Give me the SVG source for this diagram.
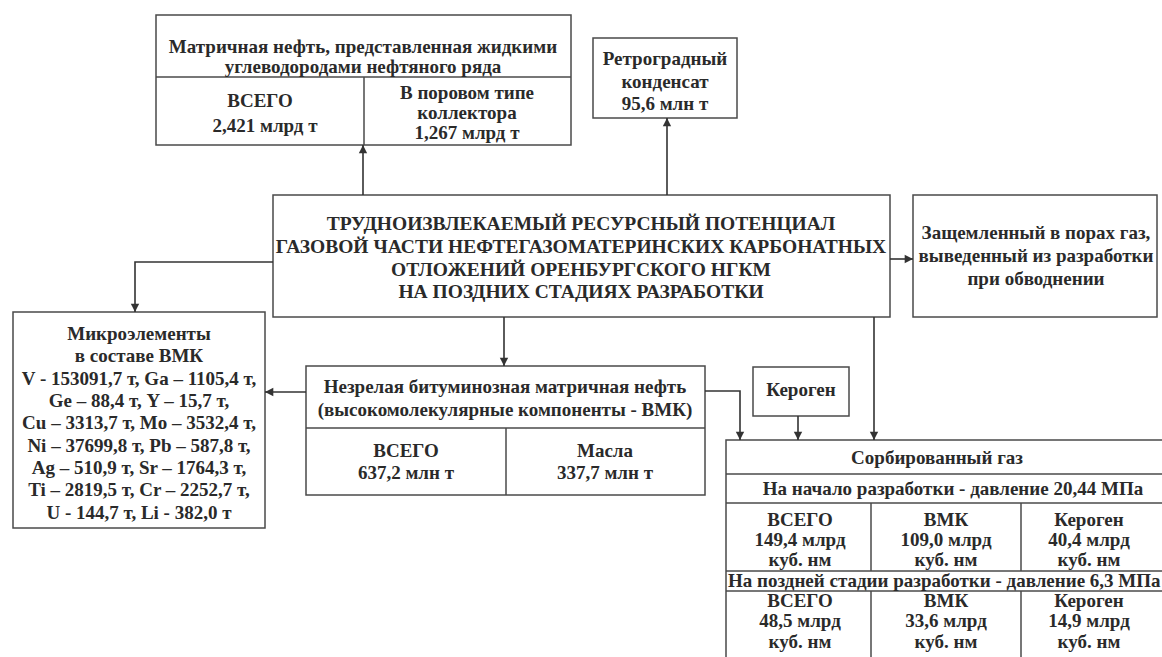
<svg xmlns="http://www.w3.org/2000/svg" width="1162" height="657" viewBox="0 0 1162 657" font-family="'Liberation Serif', 'Times New Roman', 'DejaVu Serif', serif">
<defs>
<marker id="ah" viewBox="0 0 10 12" refX="10" refY="6" markerWidth="11" markerHeight="10" markerUnits="userSpaceOnUse" orient="auto">
<path d="M0,1 L10,6 L0,11 z" fill="#333"/>
</marker>
<style>
rect,line.d{fill:#fff;stroke:#4a4a4a;stroke-width:1.5}
line.d{fill:none}
text{font-family:'Liberation Serif','Times New Roman','DejaVu Serif',serif;font-weight:bold;font-size:19px;fill:#2a2a2a;text-anchor:middle}
text.c{font-size:19.5px}
.cn path{fill:none;stroke:#333;stroke-width:1.6;marker-end:url(#ah)}
</style>
</defs>
<rect x="0" y="0" width="1162" height="657" style="stroke:none"/>

<g id="matrix-oil">
<rect x="156" y="15" width="415" height="130"/>
<line class="d" x1="156" y1="77" x2="571" y2="77"/>
<line class="d" x1="364" y1="77" x2="364" y2="145"/>
<text x="363" y="53">Матричная нефть, представленная жидкими</text>
<text x="363" y="73">углеводородами нефтяного ряда</text>
<text x="260" y="107">ВСЕГО</text>
<text x="265" y="132">2,421 млрд т</text>
<text x="467" y="99">В поровом типе</text>
<text x="467" y="119">коллектора</text>
<text x="467" y="139">1,267 млрд т</text>
</g>

<g id="retrograde">
<rect x="593" y="38" width="144" height="80"/>
<text x="665" y="65">Ретроградный</text>
<text x="665" y="88">конденсат</text>
<text x="665" y="110">95,6 млн т</text>
</g>

<g id="central">
<rect x="273" y="195" width="617" height="122"/>
<text class="c" x="581" y="230">ТРУДНОИЗВЛЕКАЕМЫЙ РЕСУРСНЫЙ ПОТЕНЦИАЛ</text>
<text class="c" x="581" y="253">ГАЗОВОЙ ЧАСТИ НЕФТЕГАЗОМАТЕРИНСКИХ КАРБОНАТНЫХ</text>
<text class="c" x="581" y="276">ОТЛОЖЕНИЙ ОРЕНБУРГСКОГО НГКМ</text>
<text class="c" x="581" y="298">НА ПОЗДНИХ СТАДИЯХ РАЗРАБОТКИ</text>
</g>

<g id="trapped-gas">
<rect x="913" y="195" width="244" height="122"/>
<text x="1036" y="239">Защемленный в порах газ,</text>
<text x="1036" y="262">выведенный из разработки</text>
<text x="1036" y="285">при обводнении</text>
</g>

<g id="microelements">
<rect x="13" y="312" width="252" height="216"/>
<text x="139" y="340">Микроэлементы</text>
<text x="139" y="362">в составе ВМК</text>
<text x="139" y="385">V - 153091,7 т, Ga – 1105,4 т,</text>
<text x="139" y="407">Ge – 88,4 т, Y – 15,7 т,</text>
<text x="139" y="429">Cu – 3313,7 т, Mo – 3532,4 т,</text>
<text x="139" y="452">Ni – 37699,8 т, Pb – 587,8 т,</text>
<text x="139" y="474">Ag – 510,9 т, Sr – 1764,3 т,</text>
<text x="139" y="496">Ti – 2819,5 т, Cr – 2252,7 т,</text>
<text x="139" y="519">U - 144,7 т, Li - 382,0 т</text>
</g>

<g id="bitumen">
<rect x="306" y="366" width="399" height="129"/>
<line class="d" x1="306" y1="428" x2="705" y2="428"/>
<line class="d" x1="506" y1="428" x2="506" y2="495"/>
<text x="505" y="393">Незрелая битуминозная матричная нефть</text>
<text x="505" y="416">(высокомолекулярные компоненты - ВМК)</text>
<text x="406" y="457">ВСЕГО</text>
<text x="406" y="479">637,2 млн т</text>
<text x="605" y="457">Масла</text>
<text x="605" y="479">337,7 млн т</text>
</g>

<g id="kerogen">
<rect x="753" y="367" width="96" height="49"/>
<text x="801" y="396">Кероген</text>
</g>

<g id="sorbed-gas">
<rect x="726" y="440" width="460" height="240"/>
<line class="d" x1="726" y1="474" x2="1186" y2="474"/>
<line class="d" x1="726" y1="503" x2="1186" y2="503"/>
<line class="d" x1="726" y1="571" x2="1186" y2="571"/>
<line class="d" x1="726" y1="591" x2="1186" y2="591"/>
<line class="d" x1="871" y1="503" x2="871" y2="571"/>
<line class="d" x1="1021" y1="503" x2="1021" y2="571"/>
<line class="d" x1="871" y1="591" x2="871" y2="660"/>
<line class="d" x1="1021" y1="591" x2="1021" y2="660"/>
<text x="937" y="464">Сорбированный газ</text>
<text x="953" y="495">На начало разработки - давление 20,44 МПа</text>
<text x="800" y="526">ВСЕГО</text>
<text x="800" y="546">149,4 млрд</text>
<text x="800" y="566">куб. нм</text>
<text x="946" y="526">ВМК</text>
<text x="946" y="546">109,0 млрд</text>
<text x="946" y="566">куб. нм</text>
<text x="1089" y="526">Кероген</text>
<text x="1089" y="546">40,4 млрд</text>
<text x="1089" y="566">куб. нм</text>
<text x="728" y="587" style="text-anchor:start">На поздней стадии разработки - давление 6,3 МПа</text>
<text x="800" y="607">ВСЕГО</text>
<text x="800" y="627">48,5 млрд</text>
<text x="800" y="648">куб. нм</text>
<text x="946" y="607">ВМК</text>
<text x="946" y="627">33,6 млрд</text>
<text x="946" y="648">куб. нм</text>
<text x="1089" y="607">Кероген</text>
<text x="1089" y="627">14,9 млрд</text>
<text x="1089" y="648">куб. нм</text>
</g>

<g id="connectors" class="cn">
<path d="M363,195 V145"/>
<path d="M667,195 V118"/>
<path d="M890,259 H913"/>
<path d="M273,262 H135 V312"/>
<path d="M504,317 V366"/>
<path d="M306,392 H265"/>
<path d="M705,391 H740 V440"/>
<path d="M798,416 V440"/>
<path d="M874,317 V440"/>
</g>
</svg>
